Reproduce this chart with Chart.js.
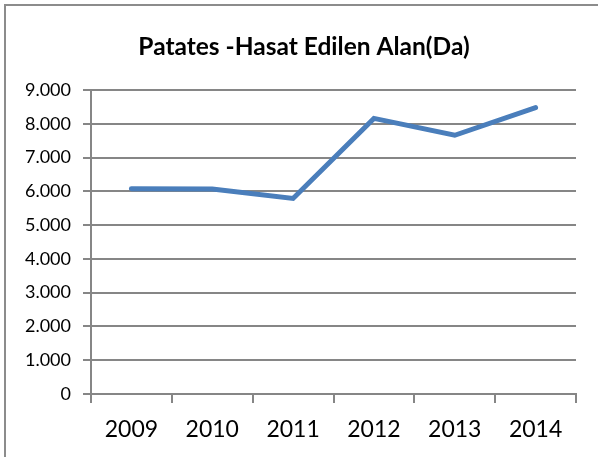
<!DOCTYPE html>
<html lang="tr">
<head>
  <meta charset="UTF-8">
  <title>Patates - Hasat Edilen Alan</title>
  <script src="https://cdn.jsdelivr.net/npm/chart.js@4.4.1/dist/chart.umd.min.js"></script>
  <style>
    html, body { margin: 0; padding: 0; background: #fff; overflow: hidden; }
    #frame { position: absolute; left: 4px; top: 4px; width: 620px; height: 480px; border: 2px solid #8c8c8c; }
    #wrap { position: absolute; left: 0; top: 0; width: 598px; height: 457px; }
  </style>
</head>
<body>
  <div id="frame"></div>
  <div id="wrap"><canvas id="chart"></canvas></div>
  <script>
    // yıllar ve hasat edilen alan (dekar)
    var years = ['2009', '2010', '2011', '2012', '2013', '2014'];
    var area = [6080, 6070, 5790, 8160, 7660, 8480];
    var yTicks = [0, 1000, 2000, 3000, 4000, 5000, 6000, 7000, 8000, 9000];
    var title = 'Patates -Hasat Edilen Alan(Da)';

    function fmt(v) {
      // 1.000 seklinde nokta ile binlik ayraci
      return String(v).replace(/\B(?=(\d{3})+(?!\d))/g, '.');
    }

    // baslik cercevenin ortasina gore (grafik alanina gore degil)
    var titlePlugin = {
      id: 'frameTitle',
      afterDraw: function (chart) {
        var c = chart.ctx;
        c.save();
        c.font = 'bold 24.5px Lato';
        c.fillStyle = '#000';
        c.textAlign = 'center';
        c.textBaseline = 'alphabetic';
        c.fillText(title, chart.width / 2 + 5, 55);
        c.restore();
      }
    };

    var ctx = document.getElementById('chart');
    new Chart(ctx, {
      type: 'line',
      data: {
        labels: years,
        datasets: [{
          label: 'Hasat Edilen Alan',
          data: area,
          borderColor: '#4a7ebb',
          borderWidth: 5,
          pointRadius: 0,
          tension: 0,
          borderCapStyle: 'round',
          borderJoinStyle: 'miter'
        }]
      },
      plugins: [titlePlugin],
      options: {
        responsive: true,
        maintainAspectRatio: false,
        animation: false,
        layout: { padding: { left: 0, right: 22, top: 90, bottom: 0 } },
        plugins: {
          legend: { display: false },
          tooltip: { enabled: false },
          title: { display: false }
        },
        scales: {
          x: {
            offset: true,
            afterFit: function (scale) { scale.height = 63; },
            grid: {
              offset: true,
              drawOnChartArea: false,
              color: '#868686',
              lineWidth: 2,
              tickLength: 9
            },
            border: { color: '#868686', width: 2 },
            ticks: {
              color: '#000',
              font: { family: 'Lato', size: 23 },
              padding: 13,
              maxRotation: 0
            }
          },
          y: {
            min: 0,
            max: 9000,
            afterBuildTicks: function (scale) {
              scale.ticks = yTicks.map(function (v) { return { value: v }; });
            },
            afterFit: function (scale) { scale.width = 91; },
            grid: {
              color: '#868686',
              lineWidth: 2,
              tickLength: 8
            },
            border: { color: '#868686', width: 2 },
            ticks: {
              color: '#000',
              font: { family: 'Lato', size: 18 },
              padding: 12,
              callback: function (v) { return fmt(v); }
            }
          }
        }
      }
    });
  </script>
</body>
</html>
